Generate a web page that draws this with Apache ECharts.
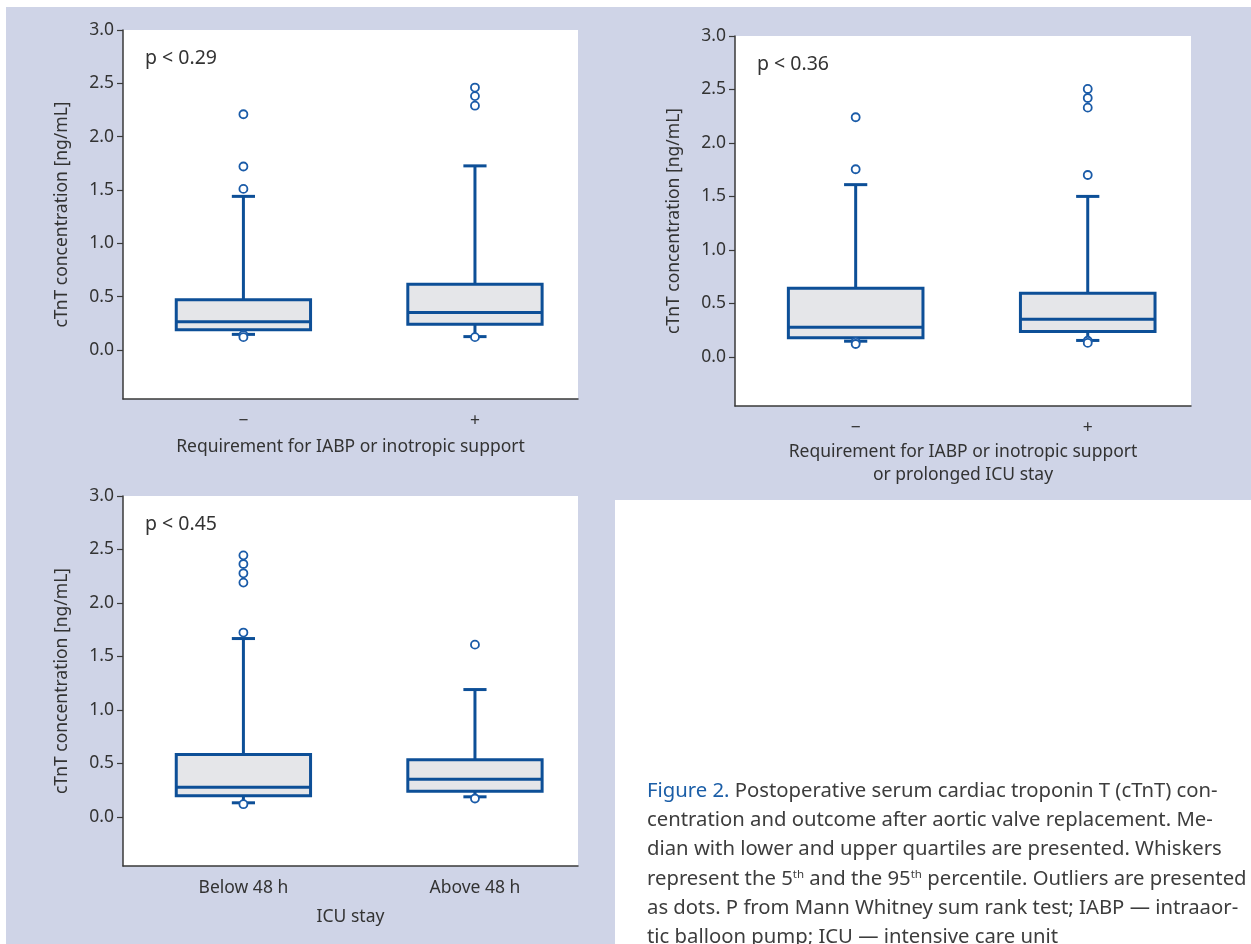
<!DOCTYPE html>
<html><head><meta charset="utf-8">
<script src="https://cdn.jsdelivr.net/npm/echarts@6/dist/echarts.min.js"></script>
<style>html,body{margin:0;padding:0;background:#fff}#c{width:1251px;height:944px}</style>
</head><body><div id="c"></div>
<script>
// ---- data ----
const yTicks = [0, 0.5, 1.0, 1.5, 2.0, 2.5, 3.0];
const yName = 'cTnT concentration [ng/mL]';

// box = [lower whisker (5th pct), Q1, median, Q3, upper whisker (95th pct)]
const p1Cats = ['−', '+'];
const p1Box = [[0.146, 0.19, 0.265, 0.47, 1.44], [0.125, 0.24, 0.352, 0.617, 1.726]];
const p1Out = [[2.21, 1.72, 1.51, 0.14, 0.12], [2.46, 2.38, 2.29, 0.12]];
const p1Title = 'Requirement for IABP or inotropic support';
const p1P = 'p < 0.29';

const p2Cats = ['−', '+'];
const p2Box = [[0.146, 0.178, 0.277, 0.642, 1.61], [0.153, 0.237, 0.352, 0.595, 1.50]];
const p2Out = [[2.24, 1.754, 0.14, 0.12], [2.505, 2.42, 2.33, 1.70, 0.15, 0.13]];
const p2Title = 'Requirement for IABP or inotropic support\nor prolonged ICU stay';
const p2P = 'p < 0.36';

const p3Cats = ['Below 48 h', 'Above 48 h'];
const p3Box = [[0.131, 0.196, 0.277, 0.583, 1.667], [0.187, 0.24, 0.352, 0.533, 1.19]];
const p3Out = [[2.445, 2.364, 2.277, 2.19, 1.723, 0.118], [1.61, 0.171]];
const p3Title = 'ICU stay';
const p3P = 'p < 0.45';

const captionLines = [
  [['b', 'Figure 2.'], ['n', ' Postoperative serum cardiac troponin T (cTnT) con-']],
  [['n', 'centration and outcome after aortic valve replacement. Me-']],
  [['n', 'dian with lower and upper quartiles are presented. Whiskers']],
  [['n', 'represent the 5'], ['s', 'th'], ['n', ' and the 95'], ['s', 'th'], ['n', ' percentile. Outliers are presented']],
  [['n', 'as dots. P from Mann Whitney sum rank test; IABP — intraaor-']],
  [['n', 'tic balloon pump; ICU — intensive care unit']]
];

// ---- style ----
const FONT = '"Noto Sans", "Open Sans", sans-serif';
const BLUE = '#0d4f97';
const BOXFILL = '#e5e6e9';
const TXT = '#333333';
const LAV = '#cfd4e7';

const panels = [
  {cats: p1Cats, box: p1Box, out: p1Out, title: p1Title, p: p1P, grid: {left: 123, top: 30, width: 455, height: 369}, nameGap: 37},
  {cats: p2Cats, box: p2Box, out: p2Out, title: p2Title, p: p2P, grid: {left: 735, top: 36, width: 456, height: 370}, nameGap: 35},
  {cats: p3Cats, box: p3Box, out: p3Out, title: p3Title, p: p3P, grid: {left: 123, top: 496, width: 455, height: 370}, nameGap: 40}
];

const grids = [], xAxes = [], yAxes = [], series = [], graphics = [];

graphics.push({type: 'rect', z: -100, silent: true, shape: {x: 6, y: 7, width: 1245, height: 937}, style: {fill: LAV}});
graphics.push({type: 'rect', z: -99, silent: true, shape: {x: 615, y: 500, width: 636, height: 444}, style: {fill: '#ffffff'}});

panels.forEach((pn, k) => {
  grids.push(Object.assign({show: true, backgroundColor: '#ffffff', borderWidth: 0, containLabel: false}, pn.grid));
  const cats = pn.cats;
  xAxes.push({
    type: 'value', gridIndex: k, min: -0.52, max: 1.445,
    splitLine: {show: false},
    axisLine: {show: true, onZero: false, lineStyle: {color: '#3a3a3a', width: 1.5}},
    axisTick: {show: false},
    axisLabel: {customValues: [0, 1], formatter: v => cats[Math.round(v)], color: TXT, fontSize: 17.5, fontFamily: FONT, margin: 13},
    name: pn.title, nameLocation: 'middle', nameGap: pn.nameGap,
    nameTextStyle: {color: TXT, fontSize: 17.5, fontFamily: FONT, lineHeight: 23, verticalAlign: 'top'}
  });
  yAxes.push({
    type: 'value', gridIndex: k, min: -0.46, max: 3.0,
    splitLine: {show: false},
    axisLine: {show: true, onZero: false, lineStyle: {color: '#3a3a3a', width: 1.5}},
    axisTick: {show: true, length: 6, customValues: yTicks, lineStyle: {color: '#3a3a3a', width: 1.2}},
    axisLabel: {customValues: yTicks, formatter: v => v.toFixed(1), color: TXT, fontSize: 17.5, fontFamily: FONT, margin: 9},
    name: yName, nameLocation: 'middle', nameGap: 52,
    nameTextStyle: {color: TXT, fontSize: 17.5, fontFamily: FONT}
  });
  series.push({
    type: 'custom', xAxisIndex: k, yAxisIndex: k, z: 2,
    data: pn.box.map((b, i) => [i].concat(b)),
    renderItem: function (params, api) {
      const x = api.value(0);
      const lo = api.coord([x, api.value(1)]);
      const q1 = api.coord([x, api.value(2)]);
      const md = api.coord([x, api.value(3)]);
      const q3 = api.coord([x, api.value(4)]);
      const hi = api.coord([x, api.value(5)]);
      const half = api.size([0.29, 0])[0];
      const cap = api.size([0.05, 0])[0];
      const ls = {stroke: BLUE, lineWidth: 3, fill: null};
      return {type: 'group', children: [
        {type: 'line', shape: {x1: lo[0], y1: lo[1], x2: q1[0], y2: q1[1]}, style: ls},
        {type: 'line', shape: {x1: hi[0], y1: hi[1], x2: q3[0], y2: q3[1]}, style: ls},
        {type: 'line', shape: {x1: lo[0] - cap, y1: lo[1], x2: lo[0] + cap, y2: lo[1]}, style: ls},
        {type: 'line', shape: {x1: hi[0] - cap, y1: hi[1], x2: hi[0] + cap, y2: hi[1]}, style: ls},
        {type: 'rect', shape: {x: q3[0] - half, y: q3[1], width: 2 * half, height: q1[1] - q3[1]}, style: {fill: BOXFILL, stroke: BLUE, lineWidth: 3}},
        {type: 'line', shape: {x1: md[0] - half, y1: md[1], x2: md[0] + half, y2: md[1]}, style: ls}
      ]};
    }
  });
  const pts = [];
  pn.out.forEach((arr, i) => arr.forEach(v => pts.push([i, v])));
  series.push({
    type: 'scatter', xAxisIndex: k, yAxisIndex: k, z: 5,
    data: pts, symbol: 'circle', symbolSize: 8,
    itemStyle: {color: '#ffffff', borderColor: '#1a5ba8', borderWidth: 1.8, opacity: 1},
    emphasis: {disabled: true}
  });
  graphics.push({type: 'text', x: pn.grid.left + 22, y: pn.grid.top + 28, silent: true,
    style: {text: pn.p, fill: TXT, font: '19.5px ' + FONT, verticalAlign: 'middle'}});
});

const richStyles = {
  b: {fill: '#1b5ea7', fontSize: 20.3, fontFamily: FONT},
  n: {fill: '#3d3d3d', fontSize: 20.3, fontFamily: FONT},
  s: {fill: '#3d3d3d', fontSize: 11.5, fontFamily: FONT, verticalAlign: 'top', padding: [0, 0, 8, 0]}
};
captionLines.forEach((line, j) => {
  const txt = line.map(t => '{' + t[0] + '|' + t[1] + '}').join('');
  graphics.push({type: 'text', x: 647, y: 791 + j * 29.3, silent: true,
    style: {text: txt, rich: richStyles, verticalAlign: 'middle', font: '20.3px ' + FONT, fill: '#3d3d3d'}});
});

const chart = echarts.init(document.getElementById('c'), null, {renderer: 'canvas'});
chart.setOption({
  backgroundColor: '#ffffff',
  animation: false,
  grid: grids, xAxis: xAxes, yAxis: yAxes, series: series,
  graphic: {elements: graphics}
});
</script></body></html>
